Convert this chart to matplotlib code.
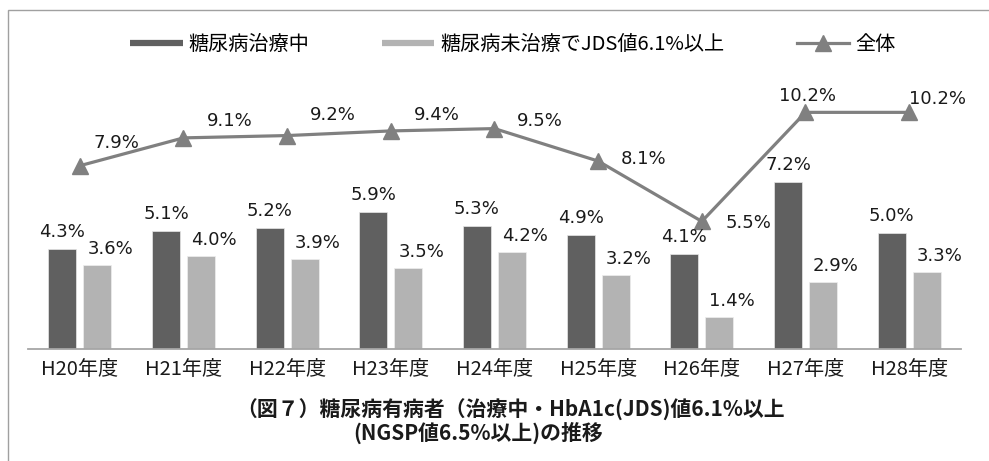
import matplotlib
matplotlib.use("Agg")
import matplotlib.pyplot as plt
from matplotlib.lines import Line2D
from matplotlib.patches import Rectangle

plt.rcParams["font.family"] = ["DejaVu Sans", "Noto Sans CJK JP"]
JP = ["Noto Sans CJK JP", "DejaVu Sans"]

# ---- data -------------------------------------------------------------
years = ["H20年度", "H21年度", "H22年度", "H23年度", "H24年度",
         "H25年度", "H26年度", "H27年度", "H28年度"]
treated = [4.3, 5.1, 5.2, 5.9, 5.3, 4.9, 4.1, 7.2, 5.0]
untreated_high = [3.6, 4.0, 3.9, 3.5, 4.2, 3.2, 1.4, 2.9, 3.3]
overall = [7.9, 9.1, 9.2, 9.4, 9.5, 8.1, 5.5, 10.2, 10.2]

series_names = ["糖尿病治療中", "糖尿病未治療でJDS値6.1%以上", "全体"]

# ---- style ------------------------------------------------------------
DARK = "#606060"
LIGHT = "#b3b3b3"
LINE = "#808080"
TEXT = "#1a1a1a"
# label offsets (pixels) for the 全体 line
line_label_offsets = [(37, 23), (46, 17), (46, 21), (46, 16), (45, 8),
                      (45, 2), (47, -2), (2, 16), (28, 13)]

W, H = 989, 461
fig = plt.figure(figsize=(W / 100, H / 100), dpi=100)

# outer frame (extends past right/bottom edges)
fig.patches.append(Rectangle((8 / W, -0.2), 1.2, 1.2 - 10 / H,
                             transform=fig.transFigure, fill=False,
                             edgecolor="#a0a0a0", linewidth=1.0))

ax = fig.add_axes([28 / W, (H - 349) / H, 933 / W, 11 * 23.2 / H])
ax.set_xlim(-0.5, len(years) - 0.5)
ax.set_ylim(0, 11)

x = list(range(len(years)))
bw = 0.27
off = 0.169
ax.bar([i - off for i in x], treated, width=bw, color=DARK,
       edgecolor="#e8e8e8", linewidth=0.5, zorder=2)
ax.bar([i + off for i in x], untreated_high, width=bw, color=LIGHT,
       edgecolor="#eeeeee", linewidth=0.5, zorder=2)
ax.plot(x, overall, color=LINE, linewidth=2.3, marker="^", markersize=11,
        zorder=3)

lab_kw = dict(textcoords="offset pixels", ha="center", va="center",
              fontsize=13, color=TEXT, zorder=4, fontfamily="DejaVu Sans")
for i, v in enumerate(treated):
    ax.annotate(f"{v:.1f}%", (i - off, v), xytext=(0, 17), **lab_kw)
for i, v in enumerate(untreated_high):
    ax.annotate(f"{v:.1f}%", (i + off, v), xytext=(13, 16), **lab_kw)
for i, v in enumerate(overall):
    ax.annotate(f"{v:.1f}%", (i, v), xytext=line_label_offsets[i], **lab_kw)

ax.set_xticks(x)
ax.set_xticklabels(years, fontfamily=JP, fontsize=14.5, color=TEXT)
ax.tick_params(axis="x", length=0, pad=7)
ax.set_yticks([])
for s in ("left", "right", "top"):
    ax.spines[s].set_visible(False)
ax.spines["bottom"].set_color("#a6a6a6")
ax.spines["bottom"].set_linewidth(1.3)

handles = [
    Line2D([], [], color=DARK, linewidth=4.5, solid_capstyle="butt"),
    Line2D([], [], color=LIGHT, linewidth=4.5, solid_capstyle="butt"),
    Line2D([], [], color=LINE, linewidth=2.3, marker="^", markersize=11),
]
fig.legend(handles, series_names, loc="center", bbox_to_anchor=(513 / W, 1 - 45 / H),
           ncol=3, frameon=False, handlelength=2.6, handletextpad=0.3,
           columnspacing=3.6, prop={"family": JP, "size": 14.5})

title_kw = dict(ha="center", va="center", fontfamily=JP, fontsize=15,
                fontweight="bold", color=TEXT)
fig.text(511 / W, 1 - 410 / H, "（図７）糖尿病有病者（治療中・HbA1c(JDS)値6.1%以上", **title_kw)
fig.text(478 / W, 1 - 433 / H, "(NGSP値6.5%以上)の推移", **title_kw)

fig.savefig("out.png", dpi=100)
